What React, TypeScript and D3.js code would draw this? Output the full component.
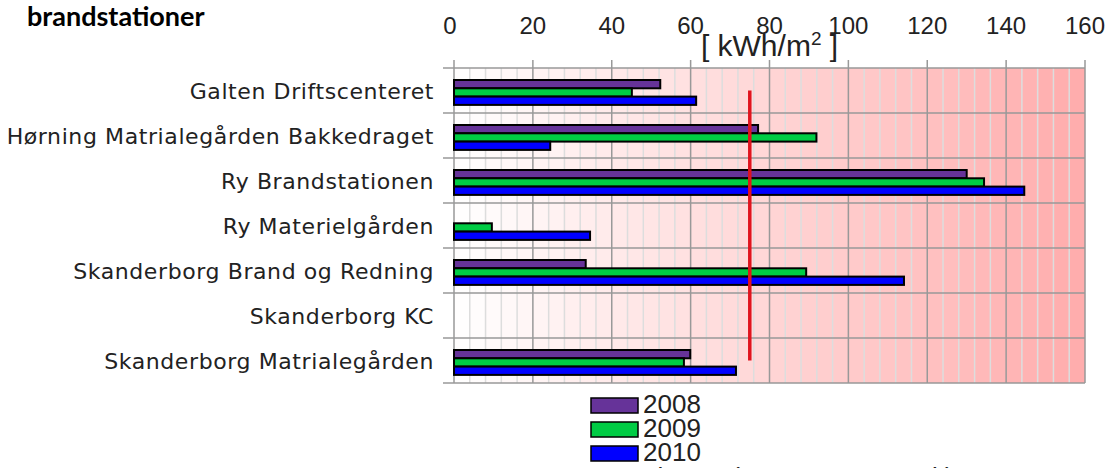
import React from "react";
import * as d3 from "d3";

const categories = [
  "Galten Driftscenteret",
  "Hørning Matrialegården Bakkedraget",
  "Ry Brandstationen",
  "Ry Materielgården",
  "Skanderborg Brand og Redning",
  "Skanderborg KC",
  "Skanderborg Matrialegården",
];

const years = ["2008", "2009", "2010"];
const v2008 = [52.3, 77.1, 130, null, 33.4, null, 59.9];
const v2009 = [45.1, 91.9, 134.4, 9.6, 89.3, null, 58.3];
const v2010 = [61.4, 24.4, 144.6, 34.5, 114.1, null, 71.5];
const colors = ["#663399", "#00cc44", "#0000ff"];

const average = 75;
const xTicks = [0, 20, 40, 60, 80, 100, 120, 140, 160];

const width = 1110;
const height = 468;
const margin = { top: 68, right: 25, bottom: 85, left: 454 };

const App: React.FC = () => {
  const series = [v2008, v2009, v2010];

  const xScale = d3
    .scaleLinear()
    .domain([0, 160])
    .range([margin.left, width - margin.right]);

  const yScale = d3
    .scaleBand()
    .domain(categories)
    .range([margin.top, height - margin.bottom]);

  const barH = 8.3;
  const barOffset = 12;

  // background cells, one per minor step
  const minor = d3.range(0, 160, 4);
  const bgColor = d3.interpolateRgb("#ffffff", "#ffacac");

  const y0 = margin.top;
  const y1 = height - margin.bottom;
  const firstMid = (yScale(categories[0]) as number) + yScale.bandwidth() / 2;
  const lastMid =
    (yScale(categories[categories.length - 1]) as number) + yScale.bandwidth() / 2;

  const font = "'Liberation Sans', Arial, sans-serif";

  return (
    <div style={{ position: "fixed", left: 0, top: 0 }}>
      <svg width={width} height={height} style={{ display: "block", background: "#fff" }}>
        <text
          x={27}
          y={26}
          fontFamily="Lato, 'Liberation Sans', sans-serif"
          fontWeight="bold"
          fontSize={27}
          fill="#000"
        >
          brandstationer
        </text>

        {minor.map((m) => (
          <rect
            key={"bg" + m}
            x={xScale(m)}
            y={y0}
            width={xScale(m + 4) - xScale(m)}
            height={y1 - y0}
            fill={bgColor((m + 2) / 160)}
          />
        ))}

        {minor.map((m) =>
          m % 20 === 0 ? null : (
            <line
              key={"mn" + m}
              x1={xScale(m)}
              x2={xScale(m)}
              y1={y0}
              y2={y1}
              stroke="#dddddd"
              strokeWidth={1.5}
            />
          )
        )}

        {xTicks.map((t) => (
          <g key={"tk" + t}>
            <line
              x1={xScale(t)}
              x2={xScale(t)}
              y1={60}
              y2={y1}
              stroke="#999"
              strokeWidth={1.5}
            />
            <text
              x={xScale(t) - (t === 0 ? 4 : 0)}
              y={34}
              textAnchor="middle"
              fontFamily={font}
              fontSize={24}
              fill="#222"
            >
              {t}
            </text>
          </g>
        ))}

        {categories.map((c) => (
          <line
            key={"hl" + c}
            x1={443}
            x2={xScale(160)}
            y1={yScale(c) as number}
            y2={yScale(c) as number}
            stroke="#999"
            strokeWidth={1.5}
          />
        ))}
        <line x1={443} x2={xScale(160)} y1={y1} y2={y1} stroke="#999" strokeWidth={1.5} />

        {categories.map((c) => (
          <text
            key={"lb" + c}
            x={434}
            y={(yScale(c) as number) + yScale.bandwidth() / 2 + 8}
            textAnchor="end"
            fontFamily="'DejaVu Sans', sans-serif"
            fontSize={22}
            letterSpacing={0.6}
            fill="#222"
          >
            {c}
          </text>
        ))}

        {series.map((vals, si) =>
          vals.map((v, ci) =>
            v == null ? null : (
              <rect
                key={"b" + si + "-" + ci}
                x={xScale(0)}
                y={(yScale(categories[ci]) as number) + barOffset + si * barH}
                width={xScale(v) - xScale(0)}
                height={barH}
                fill={colors[si]}
                stroke="#000"
                strokeWidth={2}
              />
            )
          )
        )}

        <line
          x1={xScale(average)}
          x2={xScale(average)}
          y1={firstMid}
          y2={lastMid}
          stroke="#e0141e"
          strokeWidth={3.5}
        />

        <text
          x={xScale(80)}
          y={56}
          textAnchor="middle"
          fontFamily={font}
          fontSize={30}
          fill="#222"
        >
          [ kWh/m
          <tspan dy={-11} fontSize={19}>
            2
          </tspan>
          <tspan dy={11}> ]</tspan>
        </text>

        {years.map((yr, i) => (
          <g key={"lg" + yr}>
            <rect
              x={591}
              y={398 + i * 24}
              width={47}
              height={15}
              fill={colors[i]}
              stroke="#000"
              strokeWidth={1.5}
            />
            <text
              x={643}
              y={413 + i * 24}
              fontFamily={font}
              fontSize={26}
              fill="#222"
            >
              {yr}
            </text>
          </g>
        ))}
        <line x1={591} x2={638} y1={478} y2={478} stroke="#e0141e" strokeWidth={3.5} />
        <text x={643} y={486} fontFamily={font} fontSize={26} fill="#222">
          Lineær (2010 Gennemsnit)
        </text>
      </svg>
    </div>
  );
};

export default App;
